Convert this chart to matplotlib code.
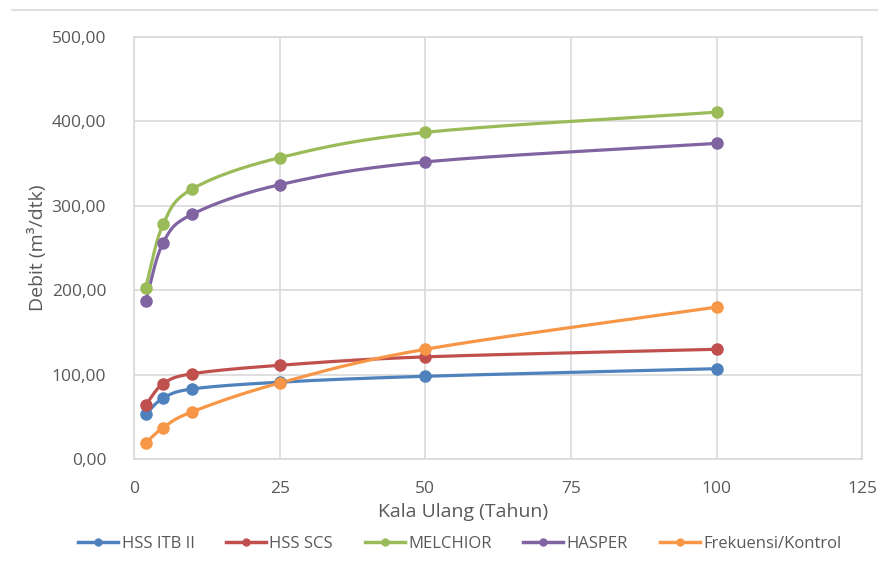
import matplotlib

matplotlib.use("Agg")
import matplotlib.pyplot as plt
import numpy as np
from matplotlib.lines import Line2D
from matplotlib.ticker import FuncFormatter, MultipleLocator

KALA_ULANG = [2, 5, 10, 25, 50, 100]
HSS_ITB = [53, 72, 83, 91, 98, 107]
HSS_SCS = [64, 89, 101, 111, 121, 130]
MELCHIOR = [203, 278, 320, 357, 387, 411]
HASPER = [187, 256, 290, 325, 352, 374]
FREKUENSI = [19, 37, 56, 90, 130, 180]

SERIES = [
    ("HSS ITB II", HSS_ITB, "#4F81BD"),
    ("HSS SCS", HSS_SCS, "#C0504D"),
    ("MELCHIOR", MELCHIOR, "#9BBB59"),
    ("HASPER", HASPER, "#8064A2"),
    ("Frekuensi/Kontrol", FREKUENSI, "#F79646"),
]
TXT = "#595959"
GRID = "#D9D9D9"


def smooth(x, y, n=30):
    """Catmull-Rom curve through the points, like a spreadsheet 'smoothed line'."""
    x, y = np.asarray(x, float), np.asarray(y, float)
    px = np.concatenate([[2 * x[0] - x[1]], x, [2 * x[-1] - x[-2]]])
    py = np.concatenate([[2 * y[0] - y[1]], y, [2 * y[-1] - y[-2]]])
    xs, ys = [], []
    t = np.linspace(0, 1, n)
    for i in range(1, len(px) - 2):
        for p, out in ((px, xs), (py, ys)):
            p0, p1, p2, p3 = p[i - 1], p[i], p[i + 1], p[i + 2]
            out.extend(0.5 * (2 * p1 + (-p0 + p2) * t
                              + (2 * p0 - 5 * p1 + 4 * p2 - p3) * t ** 2
                              + (-p0 + 3 * p1 - 3 * p2 + p3) * t ** 3))
    return xs, ys


plt.rcParams["font.family"] = ["Open Sans", "DejaVu Sans"]
fig = plt.figure(figsize=(8.79, 5.67), dpi=100)
ax = fig.add_axes([0.1524, 0.1905, 0.8286, 0.7442])

for name, vals, c in SERIES:
    sx, sy = smooth(KALA_ULANG, vals)
    ax.plot(sx, sy, color=c, lw=2.3, solid_capstyle="round", zorder=3)
    ax.plot(KALA_ULANG, vals, "o", color=c, ms=8, zorder=4)

ax.set_xlim(0, 125)
ax.set_ylim(0, 500)
ax.xaxis.set_major_locator(MultipleLocator(25))
ax.yaxis.set_major_locator(MultipleLocator(100))
ax.yaxis.set_major_formatter(FuncFormatter(lambda v, _: f"{v:.2f}".replace(".", ",")))
ax.grid(True, color=GRID, lw=1.2)
ax.set_axisbelow(True)
for s in ax.spines.values():
    s.set_color(GRID)
    s.set_linewidth(1.2)
ax.tick_params(length=0, colors=TXT, labelsize=12.5)
ax.tick_params(axis="x", pad=16)
ax.tick_params(axis="y", pad=20)

ax.set_xlabel("Kala Ulang (Tahun)", color=TXT, fontsize=14, labelpad=0)
ax.xaxis.set_label_coords(0.452, -0.105)
ax.set_ylabel("Debit (m³/dtk)", color=TXT, fontsize=14)
ax.yaxis.set_label_coords(-0.12, 0.5)

handles = [Line2D([0], [0], color=c, lw=2.5, marker="o", ms=5) for _, _, c in SERIES]
fig.legend(handles, [s[0] for s in SERIES], loc="center", bbox_to_anchor=(0.523, 0.04),
           ncol=5, frameon=False, fontsize=12, labelcolor=TXT, handlelength=2.4,
           handletextpad=0.2, columnspacing=1.9)

# thin frame line across the top of the chart area
fig.add_artist(Line2D([0.014, 1.0], [0.982, 0.982], color="#E0E0E0", lw=1.5))

fig.savefig("out.png", dpi=100)
